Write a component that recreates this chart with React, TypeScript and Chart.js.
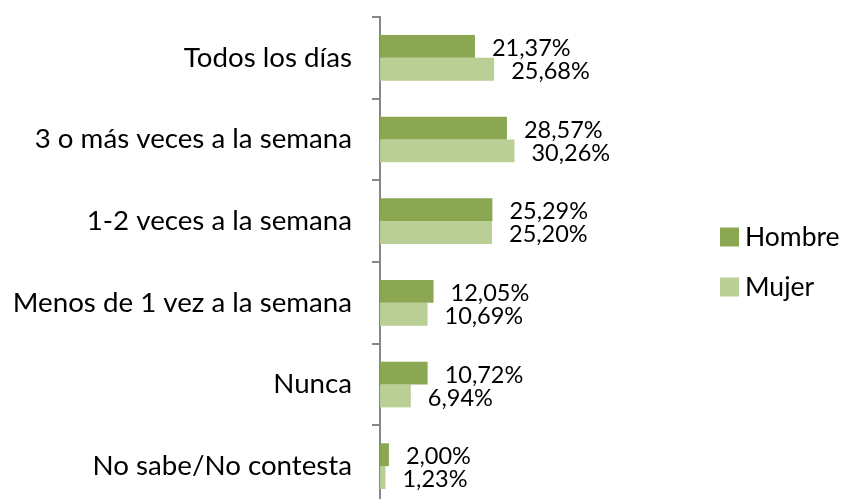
import React, { useEffect, useRef } from "react";
import { Chart, registerables } from "chart.js";

Chart.register(...registerables);

const categories = [
  "Todos los días",
  "3 o más veces a la semana",
  "1-2 veces a la semana",
  "Menos de 1 vez a la semana",
  "Nunca",
  "No sabe/No contesta",
];
const hombre = [21.37, 28.57, 25.29, 12.05, 10.72, 2.0];
const mujer = [25.68, 30.26, 25.2, 10.69, 6.94, 1.23];
const seriesNames = ["Hombre", "Mujer"];
const colors = ["#8BA752", "#B9CF95"];

const FONT = "Lato";

const fmt = (v: number) => v.toFixed(2).replace(".", ",") + "%";

const labelsPlugin = {
  id: "valLabels",
  afterDatasetsDraw(chart: any) {
    const ctx = chart.ctx;
    ctx.save();
    ctx.font = `23.5px ${FONT}`;
    ctx.fillStyle = "#000";
    ctx.textAlign = "left";
    ctx.textBaseline = "middle";
    chart.data.datasets.forEach((ds: any, di: number) => {
      const meta = chart.getDatasetMeta(di);
      meta.data.forEach((el: any, i: number) => {
        ctx.fillText(fmt(ds.data[i]), el.x + 17, el.y + 2);
      });
    });
    ctx.restore();
  },
};

const legendPlugin = {
  id: "customLegend",
  afterDraw(chart: any) {
    const ctx = chart.ctx;
    ctx.save();
    ctx.font = `26.5px ${FONT}`;
    ctx.textBaseline = "middle";
    ctx.textAlign = "left";
    seriesNames.forEach((n, i) => {
      const y = 237 + i * 50;
      ctx.fillStyle = colors[i];
      ctx.fillRect(720, y - 9.5, 19, 19);
      ctx.fillStyle = "#000";
      ctx.fillText(n, 745, y);
    });
    ctx.restore();
  },
};

export default function App() {
  const ref = useRef<HTMLCanvasElement>(null);
  useEffect(() => {
    document.body.style.margin = "0";
    document.body.style.overflow = "hidden";
    const chart = new Chart(ref.current!, {
      type: "bar",
      data: {
        labels: categories,
        datasets: [
          { label: seriesNames[0], data: hombre, backgroundColor: colors[0] },
          { label: seriesNames[1], data: mujer, backgroundColor: colors[1] },
        ],
      },
      options: {
        indexAxis: "y",
        animation: false,
        responsive: false,
        maintainAspectRatio: false,
        layout: { padding: { top: 17, bottom: 3, left: 0, right: 145 } },
        datasets: { bar: { barPercentage: 1, categoryPercentage: 0.56 } },
        plugins: { legend: { display: false }, tooltip: { enabled: false } },
        scales: {
          x: { display: false, min: 0, max: 72 },
          y: {
            afterFit(s: any) {
              s.width = 380;
              s.paddingTop = 0;
              s.paddingBottom = 0;
            },
            grid: {
              drawOnChartArea: false,
              drawTicks: true,
              tickLength: 8,
              color: "#868686",
              lineWidth: 2,
              offset: true,
            },
            border: { display: true, color: "#868686", width: 2 },
            ticks: {
              color: "#000",
              padding: 20,
              font: { family: FONT, size: 27.7 },
            },
          },
        },
      },
      plugins: [labelsPlugin, legendPlugin],
    });
    return () => chart.destroy();
  }, []);
  return (
    <div style={{ position: "fixed", left: 0, top: 0, width: 845, height: 499, overflow: "hidden" }}>
      <canvas ref={ref} width={845} height={510} style={{ width: 845, height: 510, display: "block" }} />
    </div>
  );
}
